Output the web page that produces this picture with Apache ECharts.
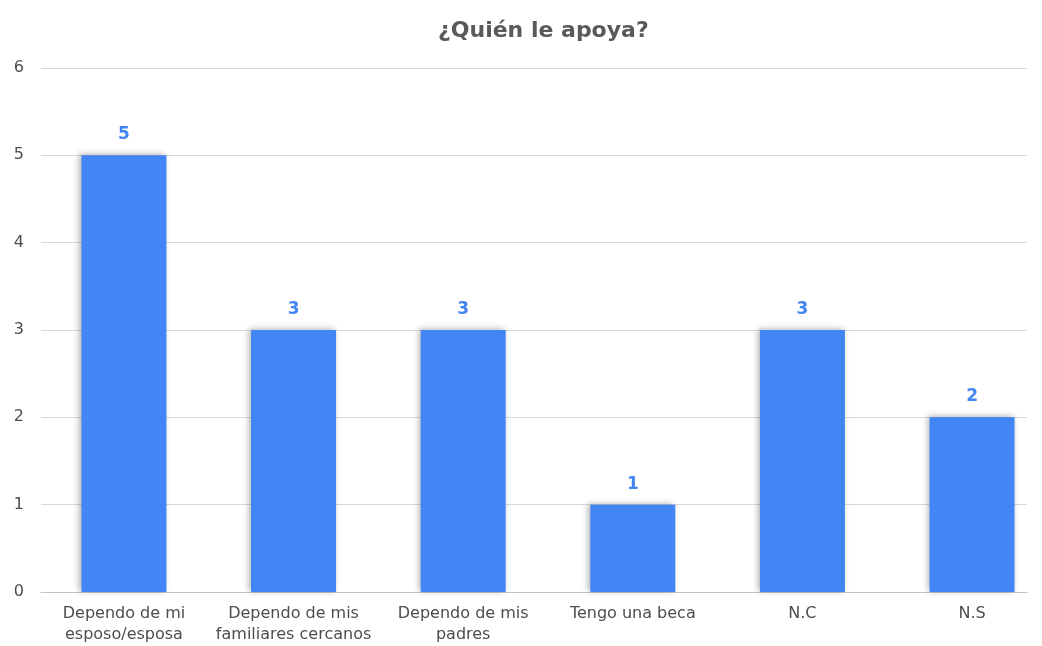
<!DOCTYPE html>
<html>
<head>
<meta charset="utf-8">
<script src="https://cdn.jsdelivr.net/npm/echarts@6/dist/echarts.min.js"></script>
<style>
  html, body { margin: 0; padding: 0; background: #fff; }
  #chart { width: 1042px; height: 646px; }
</style>
</head>
<body>
<div id="chart"></div>
<script>
const categories = [
  'Dependo de mi\nesposo/esposa',
  'Dependo de mis\nfamiliares cercanos',
  'Dependo de mis\npadres',
  'Tengo una beca',
  'N.C',
  'N.S'
];
const values = [5, 3, 3, 1, 3, 2];
const yTicks = [0, 1, 2, 3, 4, 5, 6];
const catIndex = categories.map((c, i) => i);

const font = '"DejaVu Sans", sans-serif';

echarts.init(document.querySelector('#chart')).setOption({
  title: {
    text: '¿Quién le apoya?',
    left: 433,
    top: 15,
    textStyle: { fontFamily: font, fontSize: 22, fontWeight: 'bold', color: '#595959' }
  },
  grid: { left: 41, right: 15, top: 68, bottom: 54 },
  xAxis: {
    type: 'value',
    min: -0.489,
    max: 5.324,
    splitLine: { show: false },
    axisTick: { show: false },
    axisLine: { show: true, onZero: false, lineStyle: { color: '#c4c4c4' } },
    axisLabel: {
      customValues: catIndex,
      formatter: v => categories[Math.round(v)] || '',
      fontFamily: font,
      fontSize: 16,
      color: '#4d4d4d',
      lineHeight: 21,
      margin: 11
    }
  },
  yAxis: {
    type: 'value',
    min: yTicks[0],
    max: yTicks[yTicks.length - 1],
    interval: 1,
    axisLine: { show: false },
    axisTick: { show: false },
    axisLabel: { fontFamily: font, fontSize: 16, color: '#4d4d4d', margin: 17 },
    splitLine: { lineStyle: { color: '#d9d9d9' } }
  },
  series: [{
    type: 'bar',
    data: values.map((v, i) => [catIndex[i], v]),
    barWidth: 85,
    itemStyle: {
      color: '#4285f4',
      shadowColor: 'rgba(0,0,0,0.3)',
      shadowBlur: 6,
      shadowOffsetX: -2,
      shadowOffsetY: -1
    },
    label: {
      show: true,
      position: 'top',
      distance: 12,
      fontFamily: font,
      fontSize: 17,
      fontWeight: 'bold',
      color: '#4285f4'
    }
  }]
});
</script>
</body>
</html>
